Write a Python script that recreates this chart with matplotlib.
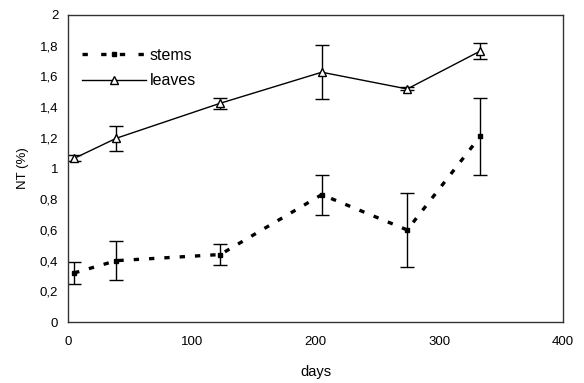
import matplotlib
matplotlib.use("Agg")
import matplotlib.pyplot as plt
from matplotlib.ticker import FuncFormatter
from matplotlib.lines import Line2D

days = [5, 39, 123, 205, 274, 333]
stems = [0.32, 0.40, 0.44, 0.83, 0.60, 1.21]
stems_err = [0.07, 0.125, 0.07, 0.13, 0.24, 0.25]
leaves = [1.066, 1.197, 1.425, 1.627, 1.518, 1.765]
leaves_err = [0.02, 0.08, 0.035, 0.175, 0.01, 0.05]

plt.rcParams['font.family'] = ['Liberation Sans', 'DejaVu Sans']

fig = plt.figure(figsize=(5.84, 3.83), dpi=100)
ax = fig.add_axes([0.1164, 0.159, 0.848, 0.802])

stem_ls = (0, (1.6, 3.0))
ax.errorbar(days, stems, yerr=stems_err, color='black', linestyle=stem_ls,
            linewidth=2.4, marker='s', markersize=3.5, capsize=5, elinewidth=1,
            capthick=1)
ax.errorbar(days, leaves, yerr=leaves_err, color='black', linestyle='-',
            linewidth=1, marker='^', markersize=6, markerfacecolor='white',
            markeredgecolor='black', capsize=5, elinewidth=1, capthick=1)

ax.set_xlim(0, 400)
ax.set_ylim(0, 2)
ax.set_xticks([0, 100, 200, 300, 400])
ax.set_yticks([0, 0.2, 0.4, 0.6, 0.8, 1.0, 1.2, 1.4, 1.6, 1.8, 2.0])

def fmt(v, pos):
    s = ('%.1f' % v).rstrip('0').rstrip('.')
    return s.replace('.', ',')

ax.yaxis.set_major_formatter(FuncFormatter(fmt))
ax.tick_params(length=0, labelsize=9.5)
ax.tick_params(axis='x', pad=10)
ax.tick_params(axis='y', pad=7)
for sp in ax.spines.values():
    sp.set_linewidth(1.0)
    sp.set_color('#333333')

ax.set_xlabel('days', fontsize=10.5, labelpad=12)
ax.set_ylabel('NT (%)', fontsize=9.5, labelpad=8)

h1 = Line2D([], [], color='black', linestyle=(0, (1.6, 4.0)), linewidth=2.4,
            marker='s', markersize=3.5)
h2 = Line2D([], [], color='black', linestyle='-', linewidth=1,
            marker='^', markersize=6, markerfacecolor='white')
ax.legend([h1, h2], ['stems', 'leaves'], loc='upper left',
          bbox_to_anchor=(0.0, 0.94), frameon=False, fontsize=11.5,
          numpoints=1, handlelength=4.0, handletextpad=0.2, labelspacing=0.65)

fig.savefig('out.png', dpi=100)
